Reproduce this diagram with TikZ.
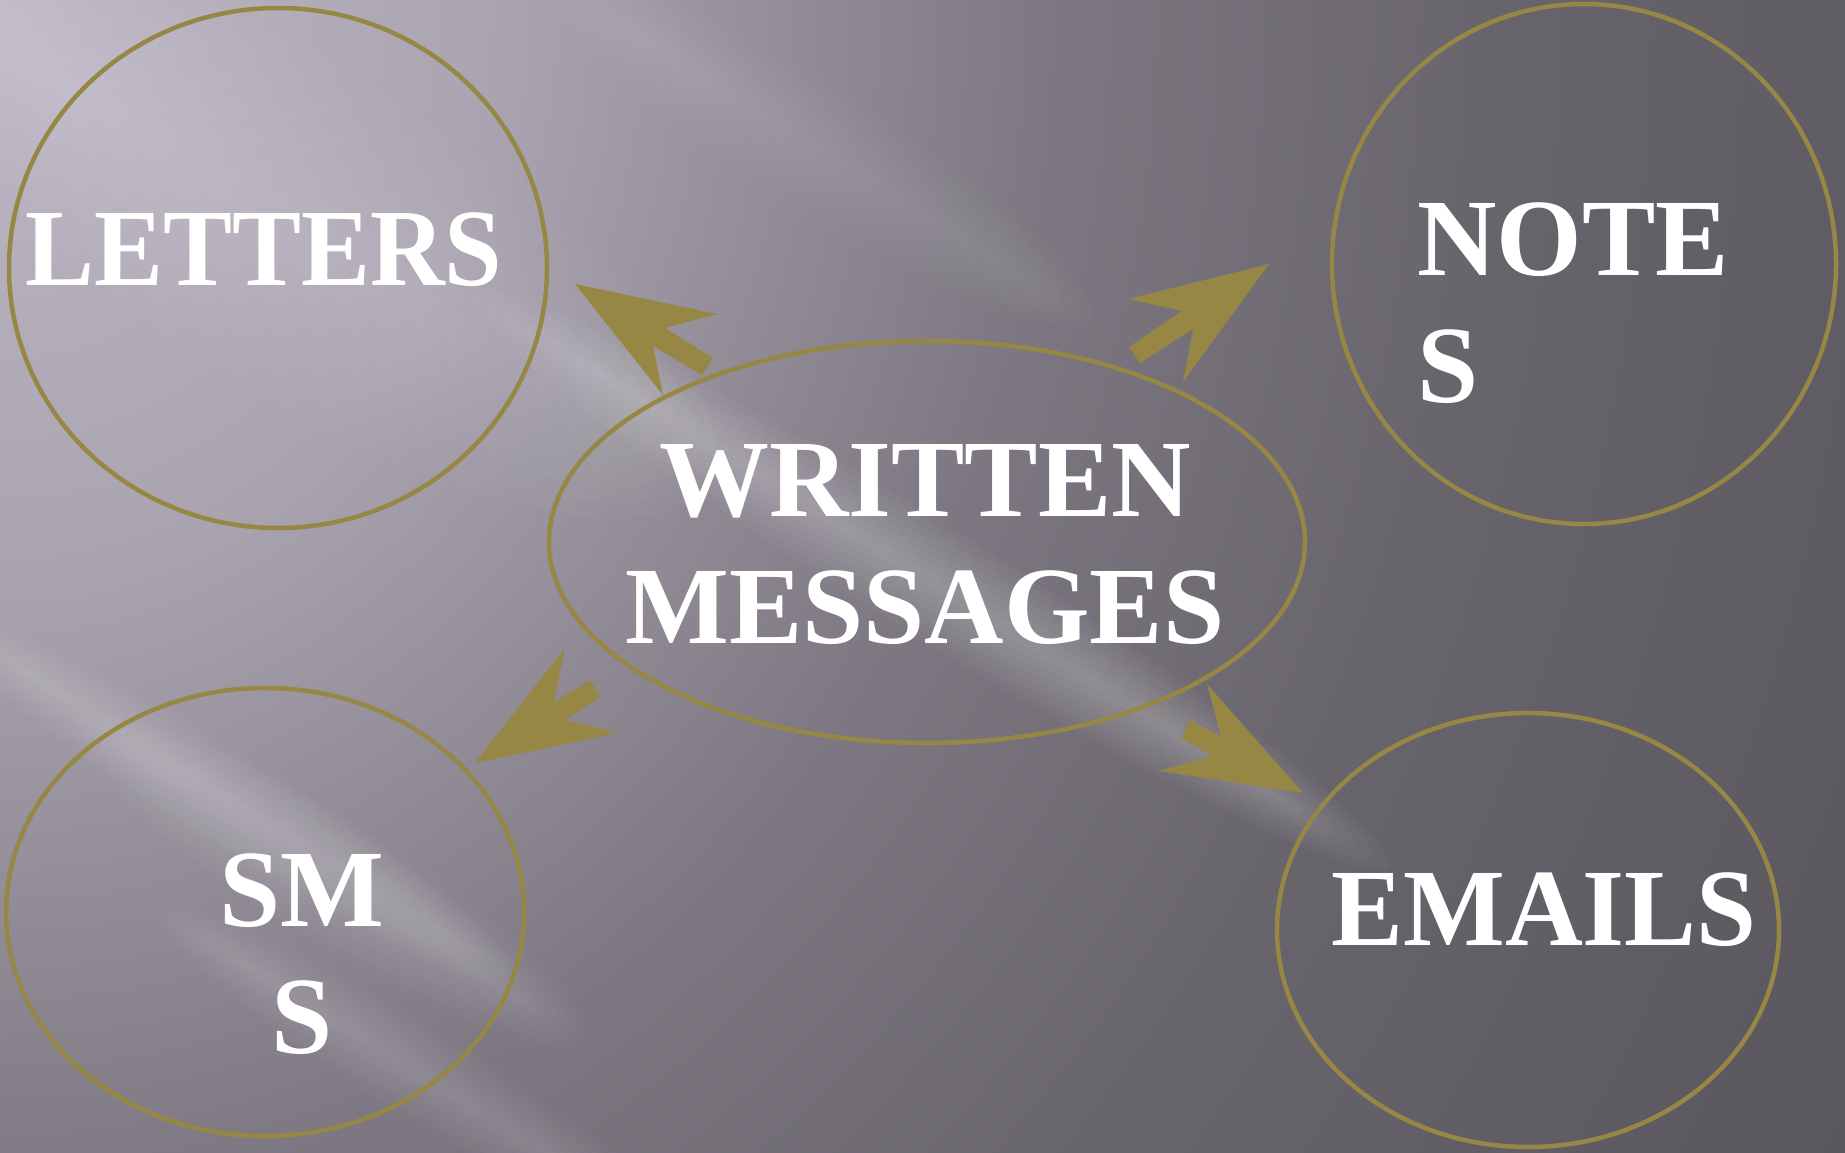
\documentclass[tikz,border=0pt]{standalone}
\usepackage{fontspec}
\setmainfont{Liberation Serif}
\usetikzlibrary{fadings}

\definecolor{gold}{RGB}{150,135,68}
\definecolor{bgA}{RGB}{190,183,197}
\definecolor{bgD}{RGB}{170,164,177}
\definecolor{bgB}{RGB}{124,119,128}
\definecolor{bgE}{RGB}{104,100,108}
\definecolor{bgC}{RGB}{88,84,91}

% backdrop glow spreading from the top-left corner
\pgfdeclareradialshading{backdrop}{\pgfpoint{0bp}{0bp}}{%
  color(0bp)=(bgA); color(5.7bp)=(bgD); color(12bp)=(bgB);
  color(17bp)=(bgE); color(25bp)=(bgC); color(50bp)=(bgC)}

% soft diagonal light streak: nested translucent ellipses
% #1,#2 centre, #3 half length, #4 half width, #5 opacity per layer
\newcommand\lightstreak[5]{%
  \begin{scope}[shift={(#1,#2)}, rotate=-32]
    \foreach \k in {1,...,8}
      \fill[white, opacity=#5] (0,0) ellipse [x radius={#3*(0.7+0.3*\k/8)}, y radius={#4*\k/8}];
  \end{scope}}

\tikzset{
  ring/.style={draw=gold, line width=4.5pt},
  label/.style={text=white, inner sep=0pt, font=\bfseries\fontsize{110}{127}\selectfont},
  blockarrow/.style={fill=gold, draw=none}
}

\begin{document}
\begin{tikzpicture}[x=1pt, y=-1pt]
  \useasboundingbox (0,0) rectangle (1845,1153);

  \begin{scope}
    \clip (0,0) rectangle (1845,1153);
    \fill[bgC] (0,0) rectangle (1845,1153);
    \shade[shading=backdrop] (0,0) ellipse [x radius=2200, y radius=2500];
    % diagonal light streaks
    \lightstreak{300}{230}{480}{160}{0.02}
    \lightstreak{820}{150}{320}{60}{0.015}
    \lightstreak{930}{580}{540}{55}{0.03}
    \lightstreak{230}{800}{340}{45}{0.025}
    \lightstreak{330}{880}{300}{60}{0.02}
    \lightstreak{430}{1080}{320}{45}{0.02}
  \end{scope}

  % outline ellipses
  \draw[ring] (278,268) ellipse [x radius=269, y radius=260];
  \draw[ring] (1584,264) ellipse [x radius=252, y radius=260];
  \draw[ring] (927,542) ellipse [x radius=378, y radius=201];
  \draw[ring] (265,912) ellipse [x radius=259, y radius=224];
  \draw[ring] (1528,930) ellipse [x radius=251, y radius=217];

  % texts
  \node[label, xscale=0.94] (letters) at (264,250) {LETTERS};
  \node[label, align=left, anchor=west] (notes) at (1417,303) {NOTE\\S};
  \node[label, align=center] (written) at (925,545) {WRITTEN\\MESSAGES};
  \node[label, align=center] (sms) at (302,954) {SM\\S};
  \node[label, xscale=0.98] (emails) at (1544,910) {EMAILS};

  % block arrows pointing out of the centre
  \fill[blockarrow] (575,284) -- (717,314) -- (665,328) -- (713,358) -- (702,375)
    -- (653,346) -- (663,395) -- cycle;
  \fill[blockarrow] (1269,264) -- (1128,299) -- (1182,311) -- (1129,347) -- (1140,363)
    -- (1193,329) -- (1183,382) -- cycle;
  \fill[blockarrow] (475,763) -- (565,648) -- (554,702) -- (590,680) -- (600,697)
    -- (565,720) -- (617,733) -- cycle;
  \fill[blockarrow] (1303,793) -- (1207,684) -- (1221,736) -- (1190,720) -- (1181,738)
    -- (1212,756) -- (1159,771) -- cycle;
\end{tikzpicture}
\end{document}
